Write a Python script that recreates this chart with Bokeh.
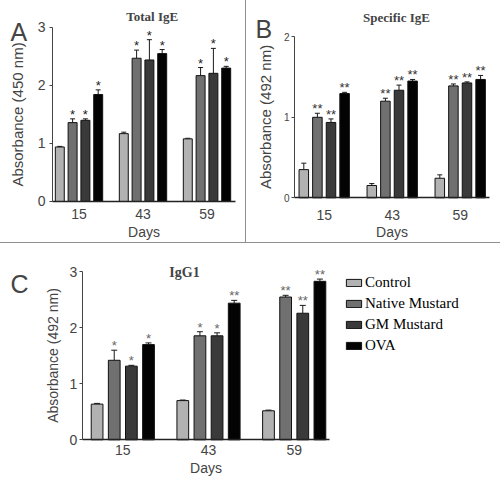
from bokeh.plotting import figure
from bokeh.models import (Range1d, FixedTicker, Whisker, TeeHead, Label, LabelSet,
                          Legend, LegendItem, ColumnDataSource, Div)
from bokeh.layouts import column, row
from bokeh.embed import file_html
from bokeh.resources import INLINE
from bokeh.core.properties import value

# ---------------- data ----------------
days = ["15", "43", "59"]
groups = ["Control", "Native Mustard", "GM Mustard", "OVA"]
colors = ["#b2b2b2", "#707070", "#3a3a3a", "#030303"]

# Panel A: Total IgE (450 nm)
ige_control = [0.94, 1.17, 1.08]
ige_native = [1.36, 2.47, 2.17]
ige_gm = [1.40, 2.44, 2.21]
ige_ova = [1.845, 2.55, 2.30]
ige_control_err = [0.01, 0.025, 0.01]
ige_native_err = [0.065, 0.14, 0.14]
ige_gm_err = [0.025, 0.35, 0.43]
ige_ova_err = [0.08, 0.07, 0.03]
ige_sig = [["", "", ""], ["*", "*", "*"], ["*", "*", "*"], ["*", "*", "*"]]

# Panel B: Specific IgE (492 nm)
sige_control = [0.35, 0.153, 0.243]
sige_native = [1.00, 1.20, 1.39]
sige_gm = [0.936, 1.336, 1.427]
sige_ova = [1.295, 1.45, 1.47]
sige_control_err = [0.08, 0.024, 0.042]
sige_native_err = [0.05, 0.037, 0.024]
sige_gm_err = [0.044, 0.064, 0.013]
sige_ova_err = [0.015, 0.02, 0.05]
sige_sig = [["", "", ""], ["**", "**", "**"], ["**", "**", "**"], ["**", "**", "**"]]

# Panel C: IgG1 (492 nm)
igg1_control = [0.637, 0.70, 0.518]
igg1_native = [1.42, 1.857, 2.55]
igg1_gm = [1.315, 1.857, 2.26]
igg1_ova = [1.70, 2.44, 2.83]
igg1_control_err = [0.013, 0.01, 0.012]
igg1_native_err = [0.18, 0.073, 0.03]
igg1_gm_err = [0.015, 0.053, 0.14]
igg1_ova_err = [0.03, 0.05, 0.04]
igg1_sig = [["", "", ""], ["*", "*", "**"], ["*", "*", "**"], ["*", "**", "**"]]

SANS = "Liberation Sans"
SERIF = "Liberation Serif"
offsets = [-0.3, -0.1, 0.1, 0.3]


def make_panel(width, height, xr, yr, x_bounds, y_bounds, yticks, means, errs, sigs,
               ylabel, ylabel_size, y_tick_size, y_std, ylab_std, x_std, xlab_std,
               bar_w, cap, star_color):
    p = figure(width=width, height=height, x_range=Range1d(*xr), y_range=Range1d(*yr),
               output_backend="svg", toolbar_location=None, title=None,
               min_border=0, min_border_left=0, min_border_right=0,
               min_border_top=0, min_border_bottom=0)
    p.xgrid.visible = False
    p.ygrid.visible = False
    p.outline_line_color = None
    p.background_fill_color = "white"
    p.border_fill_color = "white"

    renderers = []
    for gi in range(len(groups)):
        xs = [d + offsets[gi] for d in range(len(days))]
        src = ColumnDataSource(dict(
            x=xs, top=means[gi],
            upper=[m + e for m, e in zip(means[gi], errs[gi])],
            sig=sigs[gi]))
        w = Whisker(base="x", lower="top", upper="upper", source=src, dimension="height",
                    line_color="#1a1a1a", line_width=1, lower_head=None,
                    upper_head=TeeHead(size=cap, line_color="#1a1a1a", line_width=1))
        p.add_layout(w)
        r = p.vbar(x="x", top="top", bottom=0, width=bar_w, source=src,
                   fill_color=colors[gi], line_color="#111111", line_width=1)
        renderers.append(r)
        ls = LabelSet(x="x", y="upper", text="sig", source=src,
                      text_font=value(SANS), text_font_size=value("13px"),
                      text_color=star_color, text_align="center",
                      text_baseline="alphabetic")
        p.add_layout(ls)

    # y axis (fixed at the left end of the bars region)
    ya = p.yaxis[0]
    ya.fixed_location = x_bounds[0]
    ya.bounds = y_bounds
    ya.ticker = FixedTicker(ticks=yticks)
    ya.axis_label = ylabel
    ya.axis_label_text_font = SANS
    ya.axis_label_text_font_style = "normal"
    ya.axis_label_text_font_size = ylabel_size
    ya.axis_label_standoff = ylab_std
    ya.major_label_text_font = SANS
    ya.major_label_text_font_size = y_tick_size
    ya.major_label_standoff = y_std
    ya.major_tick_out = 3
    ya.major_tick_in = 0
    ya.minor_tick_line_color = None
    ya.axis_line_color = "#444444"
    ya.major_tick_line_color = "#444444"

    # x axis (fixed at zero)
    xa = p.xaxis[0]
    xa.fixed_location = 0
    xa.bounds = x_bounds
    xa.ticker = FixedTicker(ticks=list(range(len(days))))
    xa.major_label_overrides = {i: d for i, d in enumerate(days)}
    xa.axis_label = "Days"
    xa.axis_label_text_font = SANS
    xa.axis_label_text_font_style = "normal"
    xa.axis_label_text_font_size = "14px"
    xa.axis_label_standoff = xlab_std
    xa.major_label_text_font = SANS
    xa.major_label_text_font_size = "14px"
    xa.major_label_standoff = x_std
    xa.major_tick_out = 0
    xa.major_tick_in = 0
    xa.minor_tick_line_color = None
    xa.axis_line_color = "#222222"
    xa.axis_line_width = 1.5
    return p, renderers


# ---------------- Panel A ----------------
pA, _ = make_panel(245, 242, (-1.2266, 2.6016), (-0.707, 3.4655), (-0.414, 2.445), (0, 3),
                   [0, 1, 2, 3],
                   [ige_control, ige_native, ige_gm, ige_ova],
                   [ige_control_err, ige_native_err, ige_gm_err, ige_ova_err],
                   ige_sig, "Absorbance (450 nm)", "15px", "14px", 4, 9, 8, 1, 0.14, 5, "#222222")
pA.add_layout(Label(x=1.144, y=3.19, text="Total IgE", text_font=SERIF, text_font_style="bold",
                    text_font_size="13px", text_align="center", text_baseline="middle"))
pA.add_layout(Label(x=-1.07, y=2.914, text="A", text_font=SANS, text_font_size="25px",
                    text_align="left", text_baseline="alphabetic"))

# ---------------- Panel B ----------------
pB, _ = make_panel(254, 242, (-1.1426, 2.5926), (-0.5553, 2.4509), (-0.4368, 2.431), (0, 2),
                   [0, 1, 2],
                   [sige_control, sige_native, sige_gm, sige_ova],
                   [sige_control_err, sige_native_err, sige_gm_err, sige_ova_err],
                   sige_sig, "Absorbance (492 nm)", "15px", "10px", 2, 7, 12, 1, 0.14, 5, "#333333")
pB.add_layout(Label(x=1.063, y=2.2435, text="Specific IgE", text_font=SERIF, text_font_style="bold",
                    text_font_size="13px", text_align="center", text_baseline="middle"))
pB.add_layout(Label(x=-1.01, y=2.103, text="B", text_font=SANS, text_font_size="25px",
                    text_align="left", text_baseline="alphabetic"))

# ---------------- Panel C ----------------
pC, rC = make_panel(500, 246, (-1.4271, 4.4072), (-0.8875, 3.5054), (-0.4737, 2.412), (0, 3),
                    [0, 1, 2, 3],
                    [igg1_control, igg1_native, igg1_gm, igg1_ova],
                    [igg1_control_err, igg1_native_err, igg1_gm_err, igg1_ova_err],
                    igg1_sig, "Absorbance (492 nm)", "14px", "14px", 2, 6, 5, 2, 0.137, 6, "#666666")
pC.add_layout(Label(x=0.72, y=2.9875, text="IgG1", text_font=SERIF, text_font_style="bold",
                    text_font_size="14px", text_align="center", text_baseline="middle"))
pC.add_layout(Label(x=-1.31, y=2.786, text="C", text_font=SANS, text_font_size="25px",
                    text_align="left", text_baseline="alphabetic"))

legend = Legend(items=[LegendItem(label=g, renderers=[r]) for g, r in zip(groups, rC)],
                location=(344, 135), orientation="vertical",
                glyph_width=19, glyph_height=9, label_standoff=2, spacing=4,
                padding=0, margin=0, border_line_color=None, background_fill_alpha=0,
                label_text_font=SERIF, label_text_font_size="15px", label_text_color="black")
pC.add_layout(legend, "center")

vdiv = Div(width=1, height=242, margin=0, styles={"background-color": "#8f8f8f"})
hdiv = Div(width=500, height=1, margin=0, styles={"background-color": "#8f8f8f"})

layout = column(row(pA, vdiv, pB), hdiv, pC)

with open("out.html", "w") as f:
    f.write(file_html(layout, INLINE))
